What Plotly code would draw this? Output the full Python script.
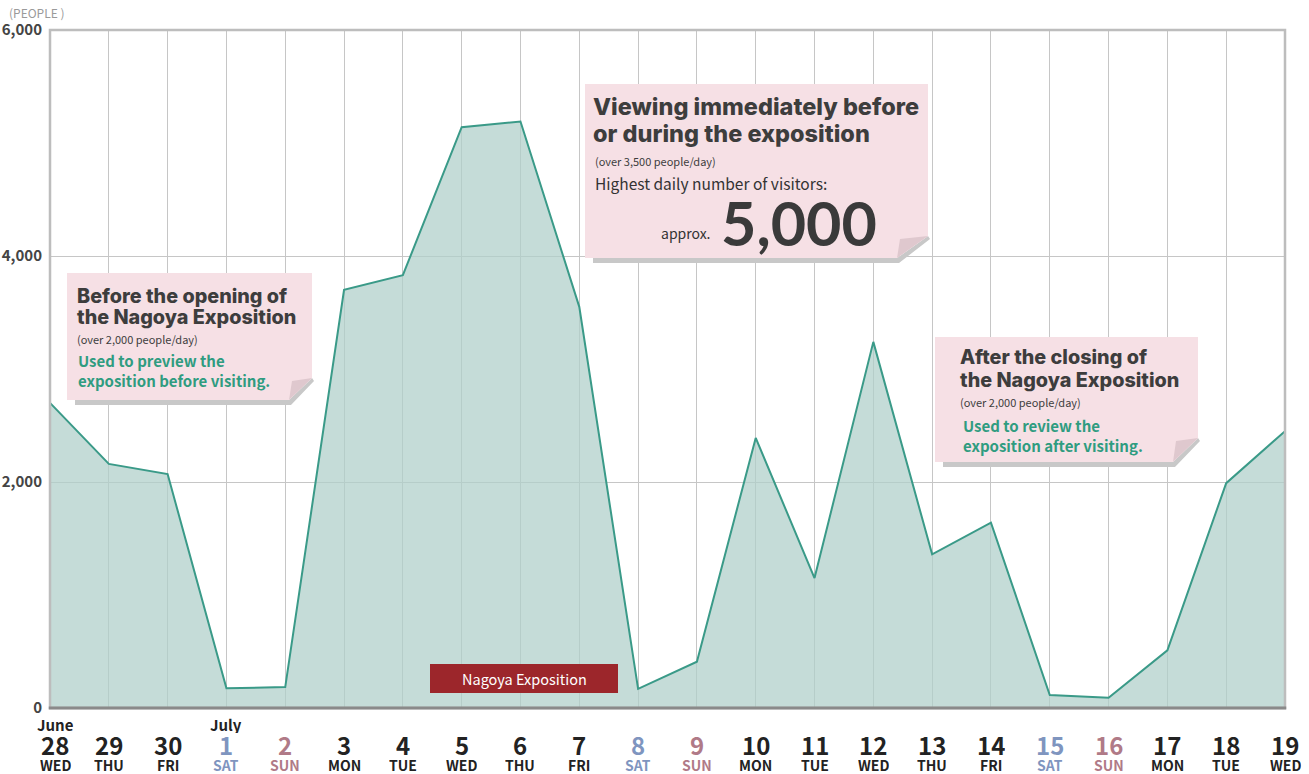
import plotly.graph_objects as go

# ---------------- data ----------------
days = ["28", "29", "30", "1", "2", "3", "4", "5", "6", "7", "8", "9", "10",
        "11", "12", "13", "14", "15", "16", "17", "18", "19"]
weekdays = ["WED", "THU", "FRI", "SAT", "SUN", "MON", "TUE", "WED", "THU", "FRI",
            "SAT", "SUN", "MON", "TUE", "WED", "THU", "FRI", "SAT", "SUN", "MON",
            "TUE", "WED"]
months = ["June", "", "", "July", "", "", "", "", "", "", "", "", "", "", "", "",
          "", "", "", "", "", ""]
visitors = [2700, 2160, 2070, 175, 185, 3700, 3830, 5140, 5190, 3550, 170, 410,
            2390, 1150, 3240, 1360, 1640, 115, 90, 510, 1990, 2450]
y_ticks = [0, 2000, 4000, 6000]
y_tick_text = ["0", "2,000", "4,000", "6,000"]

x_idx = list(range(len(days)))

# ---------------- layout helpers ----------------
W, H = 1309, 774
L, R, T, B = 50, 1285, 30, 708   # plot area in window pixels


def px(x):
    return (x - L) / (R - L)


def py(y):
    return (B - y) / (B - T)


LABEL_FONT = "Noto Sans CJK JP"
HEAD_FONT = "Inter"
DARK = "#3d3d3d"
GREEN = "#2f9c80"
PINK = "#f6e0e5"
FOLD = "#dfc8ce"
SHADOW = "#c8c8c8"
SAT_C = "#7f95bf"
SUN_C = "#b07a87"

fig = go.Figure()
fig.add_trace(go.Scatter(
    x=x_idx, y=visitors, mode="lines",
    line=dict(color="#3a9a88", width=2),
    fill="tozeroy", fillcolor="rgba(177,208,203,0.74)",
    hoverinfo="skip", showlegend=False,
))

shapes = []
annotations = []

# plot frame
shapes.append(dict(type="rect", xref="paper", yref="paper", x0=0, x1=1, y0=0, y1=1,
                   line=dict(color="#bdbdbd", width=2.5), layer="above"))
shapes.append(dict(type="line", xref="paper", yref="paper", x0=-0.001, x1=1.001, y0=0, y1=0,
                   line=dict(color="#8a8a8a", width=3), layer="above"))


def path(points):
    s = "M " + " L ".join(f"{px(a):.5f},{py(b):.5f}" for a, b in points) + " Z"
    return s


def note_box(x0, y0, x1, y1, xf, yf):
    shapes.append(dict(type="path", xref="paper", yref="paper",
                       path=path([(x0 + 8, y1), (xf, y1), (x1, yf), (x1 + 2, yf + 3),
                                  (xf + 2, y1 + 5), (x0 + 8, y1 + 5)]),
                       fillcolor=SHADOW, line=dict(width=0), layer="above"))
    shapes.append(dict(type="path", xref="paper", yref="paper",
                       path=path([(x0, y0), (x1, y0), (x1, yf), (xf, y1), (x0, y1)]),
                       fillcolor=PINK, line=dict(width=0), layer="above"))
    shapes.append(dict(type="path", xref="paper", yref="paper",
                       path=path([(xf, y1), (xf + 3, yf + 3), (x1, yf)]),
                       fillcolor=FOLD, line=dict(width=0), layer="above"))


def text(x, y, s, size, color=DARK, family=LABEL_FONT, weight="normal", xanchor="left"):
    annotations.append(dict(xref="paper", yref="paper", x=px(x), y=py(y), text=s,
                            showarrow=False, xanchor=xanchor, yanchor="middle",
                            font=dict(family=family, size=size, color=color, weight=weight)))


HW = 800
# box 1
note_box(67, 273, 312, 400, 289, 378)
text(75, 296, "Before the opening of", 19.8, family=HEAD_FONT, weight=HW)
text(75, 317, "the Nagoya Exposition", 19.8, family=HEAD_FONT, weight=HW)
text(75, 339, "(over 2,000 people/day)", 11)
text(76, 361, "Used to preview the", 15, color=GREEN, weight="bold")
text(76, 380, "exposition before visiting.", 15, color=GREEN, weight="bold")

# box 2
note_box(585, 84, 928, 258, 897, 236)
text(591, 106, "Viewing immediately before", 23.5, family=HEAD_FONT, weight=HW)
text(591, 133, "or during the exposition", 23.5, family=HEAD_FONT, weight=HW)
text(593, 161, "(over 3,500 people/day)", 11)
text(593, 183, "Highest daily number of visitors:", 15.5, color="#333333")
text(713, 233, "approx.", 14, color="#333333", xanchor="right")
text(719, 222, "5,000", 61, color="#3a3a3a", family="Lato", weight="bold")

# box 3
note_box(935, 337, 1198, 462, 1173, 438)
text(958, 357, "After the closing of", 19.8, family=HEAD_FONT, weight=HW)
text(958, 380, "the Nagoya Exposition", 19.8, family=HEAD_FONT, weight=HW)
text(958, 402, "(over 2,000 people/day)", 11)
text(961, 425, "Used to review the", 15, color=GREEN, weight="bold")
text(961, 445, "exposition after visiting.", 15, color=GREEN, weight="bold")

# exposition period marker
shapes.append(dict(type="rect", xref="paper", yref="paper",
                   x0=px(430), x1=px(618), y0=py(693), y1=py(664),
                   fillcolor="#9c262b", line=dict(width=0), layer="above"))
text(524, 678, "Nagoya Exposition", 14.5, color="white", xanchor="center")

# unit label
text(7, 13, "(PEOPLE )", 12, color="#9a9a9a")

# x axis labels (month / day / weekday)
for i, (d, wd, m) in enumerate(zip(days, weekdays, months)):
    if wd == "SAT":
        c = SAT_C
    elif wd == "SUN":
        c = SUN_C
    else:
        c = "#222222"
    xs = 5 if i == 0 else 0
    if m:
        annotations.append(dict(xref="x", yref="paper", x=i, y=0, yshift=-16, xshift=xs,
                                text=m, showarrow=False, xanchor="center", yanchor="middle",
                                height=17,
                                font=dict(family=LABEL_FONT, size=15, color="#222222",
                                          weight="bold")))
    annotations.append(dict(xref="x", yref="paper", x=i, y=0, yshift=-36, xshift=xs,
                            text=d, showarrow=False, xanchor="center", yanchor="middle",
                            height=24,
                            font=dict(family=LABEL_FONT, size=24, color=c, weight="bold")))
    annotations.append(dict(xref="x", yref="paper", x=i, y=0, yshift=-57, xshift=xs,
                            text=wd, showarrow=False, xanchor="center", yanchor="middle",
                            height=16,
                            font=dict(family=LABEL_FONT, size=14, color=c, weight="bold")))

fig.update_layout(
    width=W, height=H,
    margin=dict(l=L, r=W - R, t=T, b=H - B, pad=0, autoexpand=False),
    paper_bgcolor="white", plot_bgcolor="white",
    shapes=shapes, annotations=annotations,
    xaxis=dict(range=[0, len(days) - 1], tickvals=x_idx, showticklabels=False,
               showgrid=True, gridcolor="#c6c6c6", gridwidth=1, zeroline=False,
               ticks="", showline=False, fixedrange=True, automargin=False),
    yaxis=dict(range=[0, 6000], tickvals=y_ticks, ticktext=y_tick_text,
               showgrid=True, gridcolor="#c6c6c6", gridwidth=1, zeroline=False,
               ticks="", showline=False, ticklabelstandoff=7, automargin=False,
               tickfont=dict(family=LABEL_FONT, size=15, color="#444444", weight="bold"),
               fixedrange=True),
    showlegend=False,
    hovermode=False,
)

fig.write_html("out.html", config={"displayModeBar": False},
               post_script="document.body.style.margin='0';document.body.style.overflow='hidden';")
